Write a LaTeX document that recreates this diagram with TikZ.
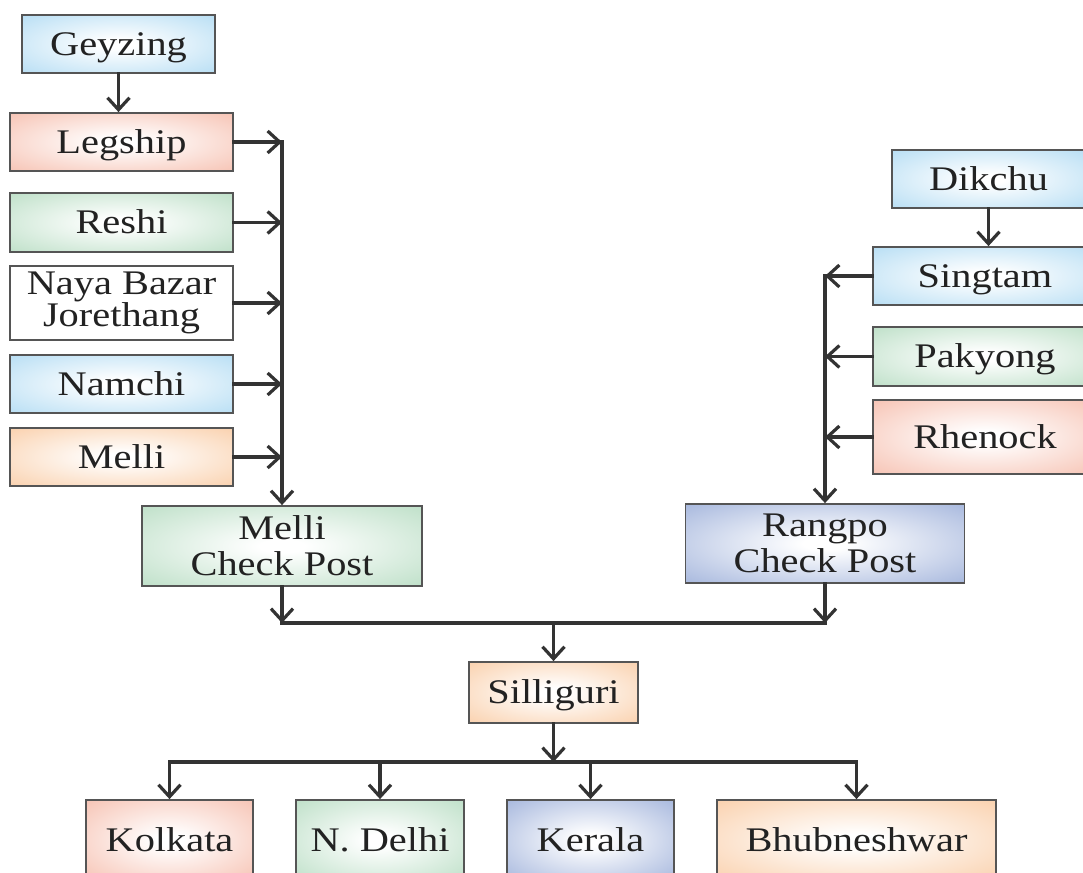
\documentclass[tikz,border=0pt]{standalone}
\usepackage{fontspec}
\setmainfont{Liberation Serif}[FakeStretch=1.17]
\usetikzlibrary{arrows.meta}

\definecolor{ink}{HTML}{222222}
\definecolor{boxline}{HTML}{555555}
\definecolor{wire}{HTML}{333333}
\definecolor{skyc}{RGB}{170,216,242}
\definecolor{salmonc}{RGB}{245,184,166}
\definecolor{mintc}{RGB}{178,218,190}
\definecolor{peachc}{RGB}{249,200,158}
\definecolor{lavc}{RGB}{150,170,215}
\colorlet{glowout}{white}

% white centre fading out to the tint at the box edges
\pgfdeclareradialshading[glowout]{glow}{\pgfpoint{0bp}{0bp}}{%
  color(0bp)=(white); color(4bp)=(white); color(42bp)=(glowout); color(75bp)=(glowout)}

\tikzset{
  basebox/.style={draw=boxline, line width=1.8pt, inner sep=0pt, text=ink,
    align=center, font=\fontsize{34.5}{36}\selectfont},
  onebox/.style={basebox, text height=22.5pt, text depth=0pt},
  tint/.code={\colorlet{glowout}{#1}},
  glowfill/.style={tint=#1, shading=glow},
  conn/.style={draw=wire, line width=3.2pt, line cap=rect},
  arr/.style={conn, -{Straight Barb[length=12pt,width=22pt]}},
}

\begin{document}
\begin{tikzpicture}[x=1pt,y=-1pt]
\useasboundingbox (0,0) rectangle (1083,872);
\clip (0,0) rectangle (1083,872);

% left-hand feeders
\node[onebox, glowfill=skyc, minimum width=193pt, minimum height=58pt] (geyzing) at (118.5,44) {Geyzing};
\node[onebox, glowfill=salmonc, minimum width=223pt, minimum height=58pt] (legship) at (121.5,142) {Legship};
\node[onebox, glowfill=mintc, minimum width=223pt, minimum height=59pt] (reshi) at (121.5,222.5) {Reshi};
\node[basebox, fill=white, minimum width=223pt, minimum height=74pt,
      font=\fontsize{34.5}{29}\selectfont] (naya) at (121.5,303) {Naya Bazar\\Jorethang};
\node[onebox, glowfill=skyc, minimum width=223pt, minimum height=58pt] (namchi) at (121.5,384) {Namchi};
\node[onebox, glowfill=peachc, minimum width=223pt, minimum height=58pt] (melli) at (121.5,457) {Melli};
\node[basebox, glowfill=mintc, minimum width=280pt, minimum height=80pt] (mellicp) at (282,546) {Melli\\Check Post};

% right-hand feeders
\node[onebox, glowfill=skyc, minimum width=193pt, minimum height=58pt] (dikchu) at (988.5,179) {Dikchu};
\node[onebox, glowfill=skyc, minimum width=224pt, minimum height=58pt] (singtam) at (985,276) {Singtam};
\node[onebox, glowfill=mintc, minimum width=224pt, minimum height=59pt] (pakyong) at (985,356.5) {Pakyong};
\node[onebox, glowfill=salmonc, minimum width=224pt, minimum height=74pt] (rhenock) at (985,437) {Rhenock};
\node[basebox, glowfill=lavc, minimum width=279pt, minimum height=79pt] (rangpo) at (825,543.5) {Rangpo\\Check Post};

% hub and destinations
\node[onebox, glowfill=peachc, minimum width=169pt, minimum height=61pt] (silliguri) at (553.5,692.5) {Silliguri};
\node[onebox, glowfill=salmonc, minimum width=167pt, minimum height=80pt] (kolkata) at (169.5,840) {Kolkata};
\node[onebox, glowfill=mintc, minimum width=168pt, minimum height=80pt] (ndelhi) at (380,840) {N. Delhi};
\node[onebox, glowfill=lavc, minimum width=167pt, minimum height=80pt] (kerala) at (590.5,840) {Kerala};
\node[onebox, glowfill=peachc, minimum width=279pt, minimum height=80pt] (bhub) at (856.5,840) {Bhubneshwar};

% bus lines and junctions
\coordinate (lbus) at (282,142);
\coordinate (rbus) at (825,276);
\coordinate (mj) at (282,623);
\coordinate (rj) at (825,623);
\coordinate (sj) at (553.5,762);

% left collector
\draw[arr] (geyzing.south) -- (geyzing.south |- legship.north);
\draw[arr] (legship.east) -- (lbus);
\draw[arr] (reshi.east) -- (reshi.east -| lbus);
\draw[arr] (naya.east) -- (naya.east -| lbus);
\draw[arr] (namchi.east) -- (namchi.east -| lbus);
\draw[arr] (melli.east) -- (melli.east -| lbus);
\draw[arr] (lbus) -- (mellicp.north);

% right collector
\draw[arr] (dikchu.south) -- (dikchu.south |- singtam.north);
\draw[arr] (singtam.west) -- (rbus);
\draw[arr] (pakyong.west) -- (pakyong.west -| rbus);
\draw[arr] (rhenock.west) -- (rhenock.west -| rbus);
\draw[arr] (rbus) -- (rangpo.north);

% check posts to Silliguri
\draw[arr] (mellicp.south) -- (mj);
\draw[arr] (rangpo.south) -- (rj);
\draw[conn] (mj) -- (rj);
\draw[arr] (silliguri.north |- mj) -- (silliguri.north);

% Silliguri to destinations
\draw[arr] (silliguri.south) -- (sj);
\draw[conn] (kolkata.north |- sj) -- (bhub.north |- sj);
\draw[arr] (kolkata.north |- sj) -- (kolkata.north);
\draw[arr] (ndelhi.north |- sj) -- (ndelhi.north);
\draw[arr] (kerala.north |- sj) -- (kerala.north);
\draw[arr] (bhub.north |- sj) -- (bhub.north);
\end{tikzpicture}
\end{document}
